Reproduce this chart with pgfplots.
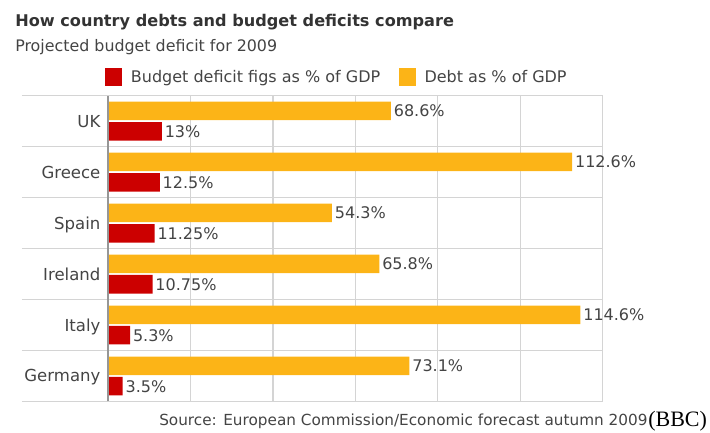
\documentclass[border=0pt]{standalone}
\usepackage{pgfplots}
\usepackage{pgfplotstable}
\pgfplotsset{compat=1.18}
\usepackage{fontspec}
\setmainfont{DejaVu Sans}
\newfontfamily\timesfont{Liberation Serif}

\definecolor{bbcred}{RGB}{204,0,0}
\definecolor{bbcorange}{RGB}{252,180,23}
\definecolor{gridgray}{RGB}{212,212,212}
\definecolor{axisgray}{RGB}{150,150,150}
\definecolor{txt}{RGB}{68,68,68}
\definecolor{titletxt}{RGB}{51,51,51}

% y: 0 = Germany ... 5 = UK
\pgfplotstableread{
x y lab
3.5 0 3.5
5.3 1 5.3
10.75 2 10.75
11.25 3 11.25
12.5 4 12.5
13 5 13
}\deficit

\pgfplotstableread{
x y lab
73.1 0 73.1
114.6 1 114.6
65.8 2 65.8
54.3 3 54.3
112.6 4 112.6
68.6 5 68.6
}\debt

\begin{document}
\begin{tikzpicture}
\path[use as bounding box] (0,0) rectangle (532.5pt,324pt);

\node[anchor=base west, inner sep=0pt, text=titletxt, font=\fontsize{12.1}{14}\selectfont\bfseries]
  at (11.25pt,303.98pt) {How country debts and budget deficits compare};
\node[anchor=base west, inner sep=0pt, text=txt, font=\fontsize{11.9}{14}\selectfont]
  at (11.25pt,285.2pt) {Projected budget deficit for 2009};

\begin{axis}[
  at={(81.2pt,22.9pt)}, anchor=south west,
  scale only axis, width=370.8pt, height=229.35pt,
  xbar, xmin=0, xmax=120, ymin=-0.5, ymax=5.5,
  xtick={0,20,...,120}, xticklabels={},
  ytick={0,...,5},
  yticklabels={Germany,Italy,Ireland,Spain,Greece,UK},
  yticklabel style={anchor=base east, inner sep=0pt, xshift=-5.7pt, yshift=-4.5pt,
    text=txt, font=\fontsize{12.4}{14}\selectfont},
  xmajorgrids, major grid style={gridgray, line width=0.9pt},
  axis line style={draw=none}, tick style={draw=none},
  major tick length=0pt,
  clip=false,
  point meta=explicit symbolic,
  nodes near coords={\pgfplotspointmeta\%},
  every node near coord/.append style={anchor=west, inner xsep=2pt,
    text=txt, font=\fontsize{12}{14}\selectfont},
  legend columns=2,
  legend style={at={(rel axis cs:-0.0067,1.0611)}, anchor=west, draw=none, fill=none,
    inner sep=0pt, font=\fontsize{12}{14}\selectfont, text=txt,
    /tikz/every odd column/.append style={column sep=4.5pt},
    /tikz/every even column/.append style={column sep=12pt}},
  legend image code/.code={\fill[#1] (0pt,-6.4pt) rectangle (12.75pt,6.4pt);},
]
\pgfplotsinvokeforeach{-0.5,0.5,1.5,2.5,3.5,4.5,5.5}{
  \draw[gridgray, line width=0.9pt] (axis cs:-20.95,#1) -- (axis cs:120,#1);
}
\addplot[fill=bbcred, draw=none, bar width=13.9pt, bar shift=-7.65pt]
  table[x=x, y=y, meta=lab]{\deficit};
\addlegendentry{Budget deficit figs as \% of GDP}
\addplot[fill=bbcorange, draw=none, bar width=13.9pt, bar shift=7.65pt]
  table[x=x, y=y, meta=lab]{\debt};
\addlegendentry{Debt as \% of GDP}
\draw[axisgray, line width=1.5pt] (axis cs:0,-0.5) -- (axis cs:0,5.5);
\end{axis}

\node[anchor=base east, inner sep=0pt, text=txt, font=\fontsize{11.45}{13}\selectfont]
  at (485.8pt,4.9pt) {Source: European Commission/Economic forecast autumn 2009};
\node[anchor=base west, inner sep=0pt, font=\timesfont\fontsize{16.5}{18}\selectfont]
  at (486pt,4.4pt) {(BBC)};
\end{tikzpicture}
\end{document}
